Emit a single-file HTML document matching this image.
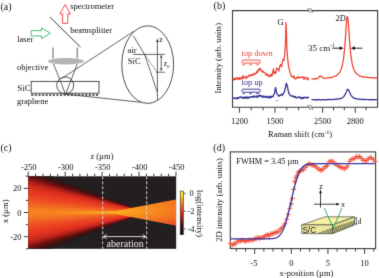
<!DOCTYPE html>
<html><head><meta charset="utf-8"><style>
html,body{margin:0;padding:0;background:#fff;}
svg{display:block;will-change:transform;}
text{font-family:'Liberation Serif',serif;}
</style></head><body>
<svg width="379" height="278" viewBox="0 0 379 278">
<defs><filter id="soft" x="0" y="0" width="379" height="278" filterUnits="userSpaceOnUse" color-interpolation-filters="sRGB"><feConvolveMatrix order="3" kernelMatrix="0.0183 0.1353 0.0183 0.1353 1 0.1353 0.0183 0.1353 0.0183" divisor="1.6146" edgeMode="duplicate"/></filter></defs>
<g filter="url(#soft)">
<rect width="379" height="278" fill="#fff"/>
<text x="0.5" y="10.2" font-size="10" fill="#111111" text-anchor="start" >(a)</text>
<path d="M65.2,4.5 L70.6,14 L67.8,14 L67.8,23.4 L62.6,23.4 L62.6,14 L59.8,14 Z" fill="none" stroke="#ee3a43" stroke-width="0.9"/>
<text x="70.2" y="9.2" font-size="8.5" fill="#111111" text-anchor="start" >spectrometer</text>
<line x1="49.9" y1="17.1" x2="80.5" y2="47.1" stroke="#3c3c3c" stroke-width="1"/>
<text x="70.2" y="33.2" font-size="8.5" fill="#111111" text-anchor="start" >beamsplitter</text>
<path d="M50.4,33.3 L41.5,27.9 L41.5,30.6 L31.2,30.6 L31.2,36 L41.5,36 L41.5,38.7 Z" fill="none" stroke="#2eb872" stroke-width="0.9"/>
<text x="17.2" y="42.2" font-size="8.5" fill="#111111" text-anchor="start" >laser</text>
<line x1="53" y1="47.6" x2="53" y2="58.5" stroke="#707070" stroke-width="1.1"/>
<line x1="77.2" y1="47.6" x2="77.2" y2="58.5" stroke="#707070" stroke-width="1.1"/>
<ellipse cx="66" cy="61.2" rx="18" ry="3.2" fill="#b4b4b6"/>
<text x="17.0" y="70.0" font-size="8.5" fill="#111111" text-anchor="start" >objective</text>
<line x1="53.5" y1="64" x2="65.6" y2="94.3" stroke="#3c3c3c" stroke-width="0.8"/>
<line x1="77.2" y1="64" x2="65.6" y2="94.3" stroke="#3c3c3c" stroke-width="0.8"/>
<rect x="31.2" y="81.4" width="67.8" height="11.8" fill="none" stroke="#3c3c3c" stroke-width="0.9"/>
<text x="17.3" y="90.6" font-size="8.8" fill="#111111" text-anchor="start" >SiC</text>
<line x1="31.2" y1="95" x2="99" y2="95" stroke="#2a2a2a" stroke-width="1.5" stroke-dasharray="2.1,1.5"/>
<text x="17.0" y="103.8" font-size="8.5" fill="#111111" text-anchor="start" >graphene</text>
<circle cx="65.2" cy="85.4" r="8.5" fill="none" stroke="#3c3c3c" stroke-width="0.9"/>
<line x1="61.6" y1="78.6" x2="133.6" y2="31.4" stroke="#3c3c3c" stroke-width="0.8"/>
<line x1="65.5" y1="94.2" x2="141.0" y2="102.3" stroke="#3c3c3c" stroke-width="0.8"/>
<ellipse cx="147.7" cy="64.6" rx="25.9" ry="38.8" fill="none" stroke="#3c3c3c" stroke-width="0.9"/>
<line x1="133.1" y1="54.4" x2="164.9" y2="54.4" stroke="#3c3c3c" stroke-width="0.8"/>
<text x="127.6" y="52.6" font-size="8.5" fill="#111111" text-anchor="start" >air</text>
<text x="127.8" y="63.6" font-size="8.5" fill="#111111" text-anchor="start" >SiC</text>
<line x1="157.4" y1="41" x2="157.4" y2="100" stroke="#3c3c3c" stroke-width="0.8"/>
<path d="M157.4,38.6 L156,42 L158.8,42 Z" fill="#3c3c3c"/>
<text x="159.3" y="41.6" font-size="8" fill="#111111" text-anchor="start" >z</text>
<line x1="133.4" y1="35.8" x2="144.6" y2="54.4" stroke="#3c3c3c" stroke-width="0.8"/>
<path d="M144.6,54.4 Q150,70 157.2,92" fill="none" stroke="#3c3c3c" stroke-width="0.8"/>
<line x1="144.6" y1="54.4" x2="157" y2="72" stroke="#3c3c3c" stroke-width="0.8" stroke-dasharray="1.6,1.2"/>
<line x1="156" y1="72.2" x2="164.9" y2="72.2" stroke="#3c3c3c" stroke-width="0.8"/>
<line x1="161.2" y1="56.5" x2="161.2" y2="69.6" stroke="#3c3c3c" stroke-width="0.8"/>
<path d="M161.2,54.8 L160,57.6 L162.4,57.6 Z M161.2,71.3 L160,68.5 L162.4,68.5 Z" fill="#3c3c3c"/>
<text x="163.8" y="66.0" font-size="7.5" fill="#111111" text-anchor="start" >z</text>
<text x="167.3" y="67.5" font-size="4.5" fill="#111111" text-anchor="start" >0</text>
<text x="213.6" y="9.2" font-size="10" fill="#111111" text-anchor="start" >(b)</text>
<path d="M308.8,10.6 L232.5,10.6 L232.5,107.3 L308.8,107.3 M311.8,107.3 L377.6,107.3 L377.6,10.6 L311.8,10.6" fill="none" stroke="#3c3c3c" stroke-width="1.1"/>
<path d="M307.8,8.1 L310.3,12.6 M310.3,8.1 L312.8,12.6" stroke="#3c3c3c" stroke-width="0.8"/>
<path d="M307.7,104.8 L310.4,109.8 M310.1,104.8 L312.8,109.8" stroke="#3c3c3c" stroke-width="0.8"/>
<line x1="239.40" y1="107.3" x2="239.40" y2="112.8" stroke="#3c3c3c" stroke-width="1"/>
<line x1="251.25" y1="107.3" x2="251.25" y2="110.3" stroke="#3c3c3c" stroke-width="1"/>
<line x1="263.10" y1="107.3" x2="263.10" y2="110.3" stroke="#3c3c3c" stroke-width="1"/>
<line x1="274.95" y1="107.3" x2="274.95" y2="112.8" stroke="#3c3c3c" stroke-width="1"/>
<line x1="286.80" y1="107.3" x2="286.80" y2="110.3" stroke="#3c3c3c" stroke-width="1"/>
<line x1="298.65" y1="107.3" x2="298.65" y2="110.3" stroke="#3c3c3c" stroke-width="1"/>
<line x1="322.60" y1="107.3" x2="322.60" y2="112.8" stroke="#3c3c3c" stroke-width="1"/>
<line x1="333.47" y1="107.3" x2="333.47" y2="110.3" stroke="#3c3c3c" stroke-width="1"/>
<line x1="344.34" y1="107.3" x2="344.34" y2="110.3" stroke="#3c3c3c" stroke-width="1"/>
<line x1="355.21" y1="107.3" x2="355.21" y2="112.8" stroke="#3c3c3c" stroke-width="1"/>
<line x1="366.08" y1="107.3" x2="366.08" y2="110.3" stroke="#3c3c3c" stroke-width="1"/>
<text x="239.40" y="123.7" font-size="8.5" fill="#111111" text-anchor="middle" >1200</text>
<text x="274.95" y="123.7" font-size="8.5" fill="#111111" text-anchor="middle" >1500</text>
<text x="322.60" y="123.7" font-size="8.5" fill="#111111" text-anchor="middle" >2500</text>
<text x="355.21" y="123.7" font-size="8.5" fill="#111111" text-anchor="middle" >2800</text>
<text x="268" y="136.8" font-size="8.5" fill="#111111">Raman shift (cm<tspan font-size="5.5" dy="-3.2">-1</tspan><tspan dy="3.2">)</tspan></text>
<text transform="translate(221.3,58.2) rotate(-90)" font-size="8.7" fill="#111111" text-anchor="middle">Intensity (arb. units)</text>
<text x="277.6" y="25.2" font-size="8.5" fill="#111111" text-anchor="start" >G</text>
<text x="335.5" y="20.9" font-size="8.5" fill="#111111" text-anchor="start" >2D</text>
<text x="307.9" y="50.7" font-size="9" fill="#111111">35 cm<tspan font-size="5.6" dy="-3.6">-1</tspan></text>
<line x1="332.3" y1="48.2" x2="341" y2="48.2" stroke="#111111" stroke-width="0.9"/>
<path d="M343.6,48.2 L339.6,46.3 L339.6,50.1 Z" fill="#111111"/>
<line x1="353.2" y1="48.2" x2="362.3" y2="48.2" stroke="#111111" stroke-width="0.9"/>
<path d="M350.8,48.2 L354.8,46.3 L354.8,50.1 Z" fill="#111111"/>
<polyline points="232.50,79.30 233.00,78.74 233.50,80.07 234.00,78.38 234.50,79.61 235.00,79.06 235.50,78.13 236.00,79.31 236.50,77.91 237.00,78.93 237.50,77.83 238.00,77.80 238.50,78.64 239.00,79.68 239.50,77.63 240.00,77.82 240.50,78.67 241.00,79.28 241.50,77.96 242.00,77.17 242.50,78.51 243.00,75.62 243.50,78.22 244.00,76.95 244.50,76.87 245.00,77.12 245.50,77.42 246.00,78.61 246.50,76.61 247.00,77.50 247.50,77.43 248.00,76.45 248.50,76.71 249.00,75.12 249.50,74.88 250.00,75.06 250.50,76.17 251.00,75.24 251.50,74.71 252.00,75.25 252.50,74.65 253.00,74.00 253.50,75.17 254.00,74.68 254.50,73.19 255.00,73.89 255.50,73.27 256.00,73.77 256.50,72.87 257.00,71.15 257.50,72.61 258.00,69.71 258.50,70.02 259.00,70.43 259.50,68.21 260.00,69.47 260.50,68.53 261.00,70.61 261.50,71.20 262.00,70.98 262.50,72.14 263.00,70.88 263.50,72.27 264.00,72.30 264.50,72.57 265.00,72.54 265.50,74.19 266.00,75.06 266.50,74.31 267.00,75.42 267.50,73.82 268.00,75.71 268.50,75.66 269.00,76.72 269.50,76.34 270.00,74.93 270.50,75.36 271.00,76.30 271.50,73.78 272.00,75.94 272.50,72.85 273.00,70.88 273.50,68.88 274.00,73.46 274.50,71.84 275.00,73.71 275.50,72.46 276.00,72.76 276.50,68.19 277.00,68.94 277.50,68.46 278.00,69.05 278.50,69.72 279.00,70.89 279.50,66.83 280.00,66.09 280.50,64.45 281.00,65.48 281.50,66.84 282.00,64.10 282.50,61.69 283.00,59.34 283.50,59.52 284.00,60.45 284.50,56.47 285.00,50.70 285.50,41.77 286.00,22.72 286.50,34.96 287.00,50.41 287.50,56.59 288.00,61.64 288.50,65.93 289.00,68.62 289.50,69.81 290.00,72.75 290.50,73.44 291.00,74.77 291.50,76.59 292.00,76.56 292.50,76.39 293.00,76.98 293.50,77.44 294.00,75.98 294.50,78.63 295.00,78.57 295.50,78.89 296.00,78.72 296.50,77.63 297.00,77.69 297.50,76.91 298.00,78.44 298.50,76.87 299.00,76.93 299.50,77.36 300.00,77.27 300.50,77.79 301.00,77.00 301.50,76.88 302.00,77.32 302.50,77.20 303.00,77.95 303.50,77.03 304.00,79.42 304.50,78.71 305.00,77.43 305.50,77.74 306.00,78.02 306.50,78.09 307.00,77.43 307.50,79.48 308.00,79.90 308.50,78.44 309.00,78.51" fill="none" stroke="#ef4130" stroke-width="1.25" stroke-linejoin="round"/>
<polyline points="311.50,78.84 312.00,78.83 312.50,78.93 313.00,78.87 313.50,79.14 314.00,78.78 314.50,78.69 315.00,79.13 315.50,78.89 316.00,78.65 316.50,78.76 317.00,78.35 317.50,78.36 318.00,78.23 318.50,77.71 319.00,77.10 319.50,76.40 320.00,76.11 320.50,75.90 321.00,76.35 321.50,76.59 322.00,77.16 322.50,77.39 323.00,77.69 323.50,78.23 324.00,78.45 324.50,78.44 325.00,78.42 325.50,78.40 326.00,78.31 326.50,78.01 327.00,78.09 327.50,77.95 328.00,77.72 328.50,77.65 329.00,77.70 329.50,77.61 330.00,77.74 330.50,77.78 331.00,77.42 331.50,77.56 332.00,77.46 332.50,77.32 333.00,76.88 333.50,76.65 334.00,76.48 334.50,76.27 335.00,76.06 335.50,76.03 336.00,75.90 336.50,75.57 337.00,75.05 337.50,74.75 338.00,74.37 338.50,73.50 339.00,73.20 339.50,72.63 340.00,71.75 340.50,70.77 341.00,69.48 341.50,67.94 342.00,66.56 342.50,64.26 343.00,61.95 343.50,58.87 344.00,54.65 344.50,49.79 345.00,44.15 345.50,37.14 346.00,29.40 346.50,22.37 347.00,17.47 347.50,16.59 348.00,19.40 348.50,25.03 349.00,32.72 349.50,40.11 350.00,46.46 350.50,51.77 351.00,56.33 351.50,59.71 352.00,62.54 352.50,65.34 353.00,67.07 353.50,68.55 354.00,70.02 354.50,70.83 355.00,71.94 355.50,72.66 356.00,72.99 356.50,73.55 357.00,74.04 357.50,74.42 358.00,74.94 358.50,75.09 359.00,75.44 359.50,75.54 360.00,76.14 360.50,76.05 361.00,76.27 361.50,76.49 362.00,76.78 362.50,76.66 363.00,77.02 363.50,76.92 364.00,77.02 364.50,77.10 365.00,76.92 365.50,77.20 366.00,77.14 366.50,77.11 367.00,77.56 367.50,77.29 368.00,77.49 368.50,77.65 369.00,77.61 369.50,77.53 370.00,77.66 370.50,77.70 371.00,77.85 371.50,77.53 372.00,77.78 372.50,77.65 373.00,77.68 373.50,77.95 374.00,77.83 374.50,77.87 375.00,77.99 375.50,78.08 376.00,77.86 376.50,77.95 377.00,77.91" fill="none" stroke="#ef4130" stroke-width="1.25" stroke-linejoin="round"/>
<polyline points="232.50,98.01 233.00,98.31 233.50,97.87 234.00,97.99 234.50,97.88 235.00,98.70 235.50,98.24 236.00,98.55 236.50,98.65 237.00,97.40 237.50,97.93 238.00,98.60 238.50,98.40 239.00,97.12 239.50,97.07 240.00,97.63 240.50,96.95 241.00,97.24 241.50,96.92 242.00,97.98 242.50,98.17 243.00,98.35 243.50,97.00 244.00,97.99 244.50,97.88 245.00,96.93 245.50,98.23 246.00,98.34 246.50,96.96 247.00,98.24 247.50,97.21 248.00,97.33 248.50,98.20 249.00,97.88 249.50,96.64 250.00,97.09 250.50,97.21 251.00,96.85 251.50,96.56 252.00,96.74 252.50,97.43 253.00,96.13 253.50,97.06 254.00,96.82 254.50,96.02 255.00,96.55 255.50,96.98 256.00,96.69 256.50,95.79 257.00,97.35 257.50,96.91 258.00,97.15 258.50,95.49 259.00,95.69 259.50,95.19 260.00,96.43 260.50,95.61 261.00,95.45 261.50,96.07 262.00,97.05 262.50,96.98 263.00,96.06 263.50,95.96 264.00,97.44 264.50,96.91 265.00,97.23 265.50,96.18 266.00,96.16 266.50,97.33 267.00,96.90 267.50,96.30 268.00,97.89 268.50,97.38 269.00,97.71 269.50,96.44 270.00,97.85 270.50,96.29 271.00,97.57 271.50,96.67 272.00,96.27 272.50,96.42 273.00,96.79 273.50,95.18 274.00,94.21 274.50,93.53 275.00,90.25 275.50,87.44 276.00,89.87 276.50,92.21 277.00,93.63 277.50,94.60 278.00,95.06 278.50,96.20 279.00,95.60 279.50,95.91 280.00,95.22 280.50,95.37 281.00,94.58 281.50,94.83 282.00,94.17 282.50,95.13 283.00,94.32 283.50,93.00 284.00,92.55 284.50,91.99 285.00,88.57 285.50,87.40 286.00,84.30 286.50,83.35 287.00,85.10 287.50,86.80 288.00,89.53 288.50,91.87 289.00,93.86 289.50,93.76 290.00,95.40 290.50,95.73 291.00,96.03 291.50,95.94 292.00,96.11 292.50,95.77 293.00,96.07 293.50,96.10 294.00,97.42 294.50,96.64 295.00,96.55 295.50,96.49 296.00,97.91 296.50,98.02 297.00,97.72 297.50,97.07 298.00,97.04 298.50,97.17 299.00,97.51 299.50,97.00 300.00,97.56 300.50,97.26 301.00,98.55 301.50,98.60 302.00,97.86 302.50,97.34 303.00,98.67 303.50,97.51 304.00,97.62 304.50,97.01 305.00,97.71 305.50,97.91 306.00,97.98 306.50,97.46 307.00,98.03 307.50,97.15 308.00,97.64 308.50,97.34 309.00,97.92" fill="none" stroke="#2c2b90" stroke-width="1.25" stroke-linejoin="round"/>
<polyline points="311.50,99.56 312.00,99.55 312.50,99.66 313.00,99.63 313.50,99.77 314.00,99.74 314.50,99.83 315.00,99.79 315.50,99.81 316.00,99.87 316.50,99.67 317.00,99.65 317.50,99.91 318.00,99.57 318.50,99.80 319.00,99.76 319.50,99.52 320.00,99.83 320.50,99.85 321.00,99.74 321.50,99.78 322.00,99.80 322.50,99.53 323.00,99.68 323.50,99.67 324.00,99.79 324.50,99.78 325.00,99.78 325.50,99.67 326.00,99.79 326.50,99.70 327.00,99.69 327.50,99.50 328.00,99.41 328.50,99.44 329.00,99.52 329.50,99.41 330.00,99.69 330.50,99.56 331.00,99.57 331.50,99.56 332.00,99.56 332.50,99.46 333.00,99.25 333.50,99.54 334.00,99.49 334.50,99.37 335.00,99.35 335.50,99.36 336.00,99.08 336.50,99.30 337.00,99.06 337.50,98.93 338.00,98.94 338.50,99.04 339.00,98.75 339.50,98.86 340.00,98.83 340.50,98.50 341.00,98.28 341.50,98.12 342.00,97.96 342.50,97.70 343.00,97.29 343.50,96.86 344.00,96.09 344.50,95.46 345.00,94.68 345.50,93.90 346.00,92.60 346.50,91.51 347.00,90.18 347.50,89.43 348.00,89.32 348.50,89.93 349.00,90.87 349.50,92.03 350.00,93.06 350.50,94.22 351.00,95.11 351.50,95.87 352.00,96.34 352.50,97.15 353.00,97.27 353.50,97.91 354.00,98.16 354.50,98.02 355.00,98.38 355.50,98.69 356.00,98.88 356.50,98.78 357.00,98.81 357.50,98.87 358.00,99.24 358.50,99.01 359.00,99.21 359.50,99.08 360.00,99.28 360.50,99.49 361.00,99.20 361.50,99.51 362.00,99.41 362.50,99.59 363.00,99.54 363.50,99.37 364.00,99.65 364.50,99.51 365.00,99.34 365.50,99.34 366.00,99.55 366.50,99.55 367.00,99.50 367.50,99.45 368.00,99.54 368.50,99.54 369.00,99.76 369.50,99.43 370.00,99.74 370.50,99.78 371.00,99.50 371.50,99.83 372.00,99.75 372.50,99.83 373.00,99.59 373.50,99.63 374.00,99.64 374.50,99.89 375.00,99.73 375.50,99.64 376.00,99.67 376.50,99.61 377.00,99.52" fill="none" stroke="#2c2b90" stroke-width="1.25" stroke-linejoin="round"/>
<circle cx="277" cy="100.6" r="0.6" fill="#2c2b90"/>
<text x="241.6" y="56.4" font-size="8.3" fill="#ef4130" text-anchor="start" >top down</text>
<rect x="241.9" y="60.1" width="18.4" height="3" rx="1.3" fill="none" stroke="#ef4130" stroke-width="0.9"/>
<path d="M242.2,64.7 h2.8 M249.2,64.7 h2.8 M256.1,64.7 h2.8" stroke="#ef4130" stroke-width="0.8"/>
<text x="241.6" y="85.4" font-size="8.3" fill="#2c2b90" text-anchor="start" >top up</text>
<rect x="241.9" y="89.2" width="18.4" height="3" rx="1.3" fill="none" stroke="#2c2b90" stroke-width="0.9"/>
<path d="M242.2,93.6 h2.8 M249.2,93.6 h2.8 M256.1,93.6 h2.8" stroke="#2c2b90" stroke-width="0.8"/>
<text x="0.5" y="151.4" font-size="10" fill="#111111" text-anchor="start" >(c)</text>
<rect x="28.2" y="176.3" width="147.8" height="72.5" fill="#231f20"/>
<defs>
<linearGradient id="streakv" x1="0" y1="0" x2="0" y2="1"><stop offset="0" stop-color="#f9b41c" stop-opacity="0"/><stop offset="0.5" stop-color="#f9b41c" stop-opacity="1"/><stop offset="1" stop-color="#f9b41c" stop-opacity="0"/></linearGradient>
<linearGradient id="streakh" x1="0" y1="0" x2="1" y2="0"><stop offset="0" stop-color="#fff" stop-opacity="0"/><stop offset="0.5" stop-color="#fff" stop-opacity="0.8"/><stop offset="1" stop-color="#fff" stop-opacity="1"/></linearGradient>
<mask id="smask"><rect x="40" y="205" width="80" height="15" fill="url(#streakh)"/></mask>
<linearGradient id="rch" x1="0" y1="0" x2="1" y2="0"><stop offset="0" stop-color="#fbb61a"/><stop offset="0.3" stop-color="#f9a11c"/><stop offset="0.7" stop-color="#f6891f"/><stop offset="1" stop-color="#f47621"/></linearGradient>
<linearGradient id="rcv" x1="0" y1="0" x2="0" y2="1"><stop offset="0" stop-color="#f26522" stop-opacity="0.25"/><stop offset="0.45" stop-color="#f26522" stop-opacity="0"/><stop offset="0.7" stop-color="#ee4a23" stop-opacity="0.25"/><stop offset="1" stop-color="#ec3f23" stop-opacity="0.8"/></linearGradient>
<linearGradient id="rcedge" x1="0" y1="0" x2="1" y2="0"><stop offset="0" stop-color="#fff" stop-opacity="0"/><stop offset="0.3" stop-color="#fff" stop-opacity="1"/></linearGradient>
<clipPath id="cimg"><rect x="28.2" y="176.3" width="147.8" height="72.5"/></clipPath></defs>
<g clip-path="url(#cimg)">
<linearGradient id="lb" x1="0" y1="0" x2="0" y2="1"><stop offset="0.000" stop-color="#231f20"/><stop offset="0.035" stop-color="#2c1616"/><stop offset="0.075" stop-color="#471010"/><stop offset="0.115" stop-color="#701111"/><stop offset="0.155" stop-color="#a81d17"/><stop offset="0.200" stop-color="#cf2a1d"/><stop offset="0.260" stop-color="#e5361f"/><stop offset="0.330" stop-color="#eb4523"/><stop offset="0.390" stop-color="#f05c24"/><stop offset="0.450" stop-color="#f47821"/><stop offset="0.500" stop-color="#f5841f"/><stop offset="0.550" stop-color="#f47821"/><stop offset="0.610" stop-color="#f05c24"/><stop offset="0.670" stop-color="#eb4523"/><stop offset="0.740" stop-color="#e5361f"/><stop offset="0.800" stop-color="#cf2a1d"/><stop offset="0.845" stop-color="#a81d17"/><stop offset="0.885" stop-color="#701111"/><stop offset="0.925" stop-color="#471010"/><stop offset="0.965" stop-color="#2c1616"/><stop offset="1.000" stop-color="#231f20"/></linearGradient>
<g fill="url(#lb)"><rect x="28" y="167.11" width="1" height="90.77"/><rect x="29" y="167.49" width="1" height="90.01"/><rect x="30" y="167.87" width="1" height="89.25"/><rect x="31" y="168.25" width="1" height="88.49"/><rect x="32" y="168.63" width="1" height="87.73"/><rect x="33" y="169.01" width="1" height="86.97"/><rect x="34" y="169.39" width="1" height="86.21"/><rect x="35" y="169.77" width="1" height="85.45"/><rect x="36" y="170.15" width="1" height="84.69"/><rect x="37" y="170.53" width="1" height="83.93"/><rect x="38" y="170.91" width="1" height="83.17"/><rect x="39" y="171.29" width="1" height="82.41"/><rect x="40" y="171.67" width="1" height="81.65"/><rect x="41" y="172.05" width="1" height="80.89"/><rect x="42" y="172.43" width="1" height="80.13"/><rect x="43" y="172.81" width="1" height="79.37"/><rect x="44" y="173.19" width="1" height="78.61"/><rect x="45" y="173.57" width="1" height="77.85"/><rect x="46" y="173.95" width="1" height="77.09"/><rect x="47" y="174.33" width="1" height="76.33"/><rect x="48" y="174.71" width="1" height="75.57"/><rect x="49" y="175.09" width="1" height="74.81"/><rect x="50" y="175.47" width="1" height="74.05"/><rect x="51" y="175.85" width="1" height="73.29"/><rect x="52" y="176.23" width="1" height="72.53"/><rect x="53" y="176.61" width="1" height="71.77"/><rect x="54" y="176.99" width="1" height="71.01"/><rect x="55" y="177.37" width="1" height="70.25"/><rect x="56" y="177.75" width="1" height="69.49"/><rect x="57" y="178.13" width="1" height="68.73"/><rect x="58" y="178.51" width="1" height="67.97"/><rect x="59" y="178.89" width="1" height="67.21"/><rect x="60" y="179.27" width="1" height="66.45"/><rect x="61" y="179.65" width="1" height="65.69"/><rect x="62" y="180.03" width="1" height="64.93"/><rect x="63" y="180.41" width="1" height="64.17"/><rect x="64" y="180.79" width="1" height="63.41"/><rect x="65" y="181.17" width="1" height="62.65"/><rect x="66" y="181.55" width="1" height="61.89"/><rect x="67" y="181.93" width="1" height="61.13"/><rect x="68" y="182.31" width="1" height="60.37"/><rect x="69" y="182.69" width="1" height="59.61"/><rect x="70" y="183.07" width="1" height="58.85"/><rect x="71" y="183.45" width="1" height="58.09"/><rect x="72" y="183.83" width="1" height="57.33"/><rect x="73" y="184.21" width="1" height="56.57"/><rect x="74" y="184.59" width="1" height="55.81"/><rect x="75" y="184.97" width="1" height="55.05"/><rect x="76" y="185.35" width="1" height="54.29"/><rect x="77" y="185.73" width="1" height="53.53"/><rect x="78" y="186.11" width="1" height="52.77"/><rect x="79" y="186.49" width="1" height="52.01"/><rect x="80" y="186.87" width="1" height="51.25"/><rect x="81" y="187.25" width="1" height="50.49"/><rect x="82" y="187.63" width="1" height="49.73"/><rect x="83" y="188.01" width="1" height="48.97"/><rect x="84" y="188.39" width="1" height="48.21"/><rect x="85" y="188.77" width="1" height="47.45"/><rect x="86" y="189.15" width="1" height="46.69"/><rect x="87" y="189.53" width="1" height="45.93"/><rect x="88" y="189.91" width="1" height="45.17"/><rect x="89" y="190.29" width="1" height="44.41"/><rect x="90" y="190.67" width="1" height="43.65"/><rect x="91" y="191.05" width="1" height="42.89"/><rect x="92" y="191.43" width="1" height="42.13"/><rect x="93" y="191.81" width="1" height="41.37"/><rect x="94" y="192.19" width="1" height="40.61"/><rect x="95" y="192.57" width="1" height="39.85"/><rect x="96" y="192.95" width="1" height="39.09"/><rect x="97" y="193.33" width="1" height="38.33"/><rect x="98" y="193.71" width="1" height="37.57"/><rect x="99" y="194.09" width="1" height="36.81"/><rect x="100" y="194.47" width="1" height="36.05"/><rect x="101" y="194.85" width="1" height="35.29"/><rect x="102" y="195.23" width="1" height="34.53"/><rect x="103" y="195.61" width="1" height="33.77"/><rect x="104" y="195.99" width="1" height="33.01"/><rect x="105" y="196.37" width="1" height="32.25"/><rect x="106" y="196.75" width="1" height="31.49"/><rect x="107" y="197.13" width="1" height="30.73"/><rect x="108" y="197.51" width="1" height="29.97"/><rect x="109" y="197.89" width="1" height="29.21"/><rect x="110" y="198.27" width="1" height="28.45"/><rect x="111" y="198.65" width="1" height="27.69"/><rect x="112" y="199.03" width="1" height="26.93"/><rect x="113" y="199.41" width="1" height="26.17"/><rect x="114" y="199.79" width="1" height="25.41"/><rect x="115" y="200.17" width="1" height="24.65"/><rect x="116" y="200.55" width="1" height="23.89"/><rect x="117" y="200.93" width="1" height="23.13"/><rect x="118" y="201.31" width="1" height="22.37"/><rect x="119" y="201.69" width="1" height="21.61"/><rect x="120" y="202.07" width="1" height="20.85"/><rect x="121" y="202.45" width="1" height="20.09"/><rect x="122" y="202.83" width="1" height="19.33"/><rect x="123" y="203.21" width="1" height="18.57"/><rect x="124" y="203.59" width="1" height="17.81"/><rect x="125" y="203.97" width="1" height="17.05"/><rect x="126" y="204.35" width="1" height="16.29"/><rect x="127" y="204.73" width="1" height="15.53"/><rect x="128" y="205.11" width="1" height="14.77"/><rect x="129" y="205.49" width="1" height="14.01"/><rect x="130" y="205.87" width="1" height="13.25"/><rect x="131" y="206.25" width="1" height="12.49"/><rect x="132" y="206.63" width="1" height="11.73"/><rect x="133" y="207.01" width="1" height="10.97"/><rect x="134" y="207.39" width="1" height="10.21"/><rect x="135" y="207.77" width="1" height="9.45"/><rect x="136" y="208.15" width="1" height="8.69"/><rect x="137" y="208.53" width="1" height="7.93"/><rect x="138" y="208.91" width="1" height="7.17"/><rect x="139" y="209.29" width="1" height="6.41"/><rect x="140" y="209.67" width="1" height="5.65"/><rect x="141" y="210.05" width="1" height="4.89"/></g>
<path d="M45,212.5 L113,210.9 L113,214.1 Z" fill="#f9b41c" opacity="0.85" mask="url(#smask)"/>
<path d="M107.5,212.5 L177,199.3 L177,225.7 Z" fill="url(#rch)"/>
<path d="M107.5,212.5 L177,199.3 L177,225.7 Z" fill="url(#rcv)"/>
</g>
<line x1="102.7" y1="176.3" x2="102.7" y2="248.8" stroke="#d4d4d4" stroke-width="1" stroke-dasharray="3,2"/>
<line x1="146.7" y1="176.3" x2="146.7" y2="248.8" stroke="#d4d4d4" stroke-width="1" stroke-dasharray="3,2"/>
<line x1="104" y1="236.6" x2="145.4" y2="236.6" stroke="#ececec" stroke-width="0.9"/>
<path d="M103.2,236.6 L106.6,234.6 M103.2,236.6 L106.6,238.6 M146.1,236.6 L142.7,234.6 M146.1,236.6 L142.7,238.6" stroke="#ececec" stroke-width="0.9" fill="none"/>
<text x="106.6" y="246.6" font-size="10" fill="#ececec" text-anchor="start" >aberation</text>
<line x1="28.20" y1="176.3" x2="28.20" y2="171.70000000000002" stroke="#3c3c3c" stroke-width="1"/>
<line x1="35.59" y1="176.3" x2="35.59" y2="173.70000000000002" stroke="#3c3c3c" stroke-width="1"/>
<line x1="42.98" y1="176.3" x2="42.98" y2="173.70000000000002" stroke="#3c3c3c" stroke-width="1"/>
<line x1="50.37" y1="176.3" x2="50.37" y2="173.70000000000002" stroke="#3c3c3c" stroke-width="1"/>
<line x1="57.76" y1="176.3" x2="57.76" y2="173.70000000000002" stroke="#3c3c3c" stroke-width="1"/>
<line x1="65.15" y1="176.3" x2="65.15" y2="171.70000000000002" stroke="#3c3c3c" stroke-width="1"/>
<line x1="72.54" y1="176.3" x2="72.54" y2="173.70000000000002" stroke="#3c3c3c" stroke-width="1"/>
<line x1="79.93" y1="176.3" x2="79.93" y2="173.70000000000002" stroke="#3c3c3c" stroke-width="1"/>
<line x1="87.32" y1="176.3" x2="87.32" y2="173.70000000000002" stroke="#3c3c3c" stroke-width="1"/>
<line x1="94.71" y1="176.3" x2="94.71" y2="173.70000000000002" stroke="#3c3c3c" stroke-width="1"/>
<line x1="102.10" y1="176.3" x2="102.10" y2="171.70000000000002" stroke="#3c3c3c" stroke-width="1"/>
<line x1="109.49" y1="176.3" x2="109.49" y2="173.70000000000002" stroke="#3c3c3c" stroke-width="1"/>
<line x1="116.88" y1="176.3" x2="116.88" y2="173.70000000000002" stroke="#3c3c3c" stroke-width="1"/>
<line x1="124.27" y1="176.3" x2="124.27" y2="173.70000000000002" stroke="#3c3c3c" stroke-width="1"/>
<line x1="131.66" y1="176.3" x2="131.66" y2="173.70000000000002" stroke="#3c3c3c" stroke-width="1"/>
<line x1="139.05" y1="176.3" x2="139.05" y2="171.70000000000002" stroke="#3c3c3c" stroke-width="1"/>
<line x1="146.44" y1="176.3" x2="146.44" y2="173.70000000000002" stroke="#3c3c3c" stroke-width="1"/>
<line x1="153.83" y1="176.3" x2="153.83" y2="173.70000000000002" stroke="#3c3c3c" stroke-width="1"/>
<line x1="161.22" y1="176.3" x2="161.22" y2="173.70000000000002" stroke="#3c3c3c" stroke-width="1"/>
<line x1="168.61" y1="176.3" x2="168.61" y2="173.70000000000002" stroke="#3c3c3c" stroke-width="1"/>
<line x1="176.00" y1="176.3" x2="176.00" y2="171.70000000000002" stroke="#3c3c3c" stroke-width="1"/>
<text x="28.80" y="169.8" font-size="8.5" fill="#111111" text-anchor="middle" >-250</text>
<text x="65.75" y="169.8" font-size="8.5" fill="#111111" text-anchor="middle" >-300</text>
<text x="102.70" y="169.8" font-size="8.5" fill="#111111" text-anchor="middle" >-350</text>
<text x="139.65" y="169.8" font-size="8.5" fill="#111111" text-anchor="middle" >-400</text>
<text x="176.60" y="169.8" font-size="8.5" fill="#111111" text-anchor="middle" >-450</text>
<text x="90.4" y="158.6" font-size="8.5" fill="#111111" text-anchor="start" >z (µm)</text>
<line x1="28.2" y1="248.80" x2="25.8" y2="248.80" stroke="#3c3c3c" stroke-width="1"/>
<line x1="28.2" y1="236.70" x2="23.799999999999997" y2="236.70" stroke="#3c3c3c" stroke-width="1"/>
<line x1="28.2" y1="224.60" x2="25.8" y2="224.60" stroke="#3c3c3c" stroke-width="1"/>
<line x1="28.2" y1="212.50" x2="23.799999999999997" y2="212.50" stroke="#3c3c3c" stroke-width="1"/>
<line x1="28.2" y1="200.40" x2="25.8" y2="200.40" stroke="#3c3c3c" stroke-width="1"/>
<line x1="28.2" y1="188.30" x2="23.799999999999997" y2="188.30" stroke="#3c3c3c" stroke-width="1"/>
<line x1="28.2" y1="176.20" x2="25.8" y2="176.20" stroke="#3c3c3c" stroke-width="1"/>
<text x="21.5" y="191.30" font-size="8.5" fill="#111111" text-anchor="end" >20</text>
<text x="21.5" y="215.50" font-size="8.5" fill="#111111" text-anchor="end" >0</text>
<text x="21.5" y="239.70" font-size="8.5" fill="#111111" text-anchor="end" >-20</text>
<text transform="translate(7.7,211.3) rotate(-90)" font-size="8.6" fill="#111111" text-anchor="middle">x (µm)</text>
<linearGradient id="cb" x1="0" y1="0" x2="0" y2="1"><stop offset="0" stop-color="#fff32a"/><stop offset="0.07" stop-color="#fde725"/><stop offset="0.16" stop-color="#fbb81c"/><stop offset="0.27" stop-color="#f5861f"/><stop offset="0.38" stop-color="#ee5223"/><stop offset="0.48" stop-color="#e0301f"/><stop offset="0.6" stop-color="#b01d18"/><stop offset="0.7" stop-color="#701010"/><stop offset="0.8" stop-color="#3a0c0c"/><stop offset="0.9" stop-color="#180c0c"/><stop offset="1" stop-color="#100a0a"/></linearGradient>
<rect x="180.2" y="191.1" width="3.1" height="43.6" fill="url(#cb)" stroke="#2a2a2a" stroke-width="0.6"/>
<line x1="183.5" y1="193.4" x2="185.6" y2="193.4" stroke="#3c3c3c" stroke-width="0.9"/>
<line x1="183.5" y1="211.2" x2="185.6" y2="211.2" stroke="#3c3c3c" stroke-width="0.9"/>
<line x1="183.5" y1="229.0" x2="185.6" y2="229.0" stroke="#3c3c3c" stroke-width="0.9"/>
<text x="189.6" y="196.4" font-size="8.3" fill="#111111" text-anchor="start" >0</text>
<text x="187.4" y="214.3" font-size="8.3" fill="#111111" text-anchor="start" >-2</text>
<text x="187.4" y="232.1" font-size="8.3" fill="#111111" text-anchor="start" >-4</text>
<line x1="176.7" y1="176.3" x2="176.7" y2="248.8" stroke="#d4d4d4" stroke-width="0.9"/>
<text transform="translate(197.2,213.6) rotate(90)" font-size="8.75" fill="#111111" text-anchor="middle">log(intensity)</text>
<text x="213.3" y="151.2" font-size="10" fill="#111111" text-anchor="start" >(d)</text>
<rect x="230.3" y="151.9" width="145.3" height="96.69999999999999" fill="none" stroke="#3c3c3c" stroke-width="1.1"/>
<line x1="236.33" y1="248.6" x2="236.33" y2="251.6" stroke="#3c3c3c" stroke-width="1"/>
<line x1="245.49" y1="248.6" x2="245.49" y2="251.6" stroke="#3c3c3c" stroke-width="1"/>
<line x1="254.65" y1="248.6" x2="254.65" y2="253.9" stroke="#3c3c3c" stroke-width="1"/>
<line x1="263.81" y1="248.6" x2="263.81" y2="251.6" stroke="#3c3c3c" stroke-width="1"/>
<line x1="272.98" y1="248.6" x2="272.98" y2="251.6" stroke="#3c3c3c" stroke-width="1"/>
<line x1="282.14" y1="248.6" x2="282.14" y2="251.6" stroke="#3c3c3c" stroke-width="1"/>
<line x1="291.30" y1="248.6" x2="291.30" y2="253.9" stroke="#3c3c3c" stroke-width="1"/>
<line x1="300.46" y1="248.6" x2="300.46" y2="251.6" stroke="#3c3c3c" stroke-width="1"/>
<line x1="309.62" y1="248.6" x2="309.62" y2="251.6" stroke="#3c3c3c" stroke-width="1"/>
<line x1="318.79" y1="248.6" x2="318.79" y2="251.6" stroke="#3c3c3c" stroke-width="1"/>
<line x1="327.95" y1="248.6" x2="327.95" y2="253.9" stroke="#3c3c3c" stroke-width="1"/>
<line x1="337.11" y1="248.6" x2="337.11" y2="251.6" stroke="#3c3c3c" stroke-width="1"/>
<line x1="346.28" y1="248.6" x2="346.28" y2="251.6" stroke="#3c3c3c" stroke-width="1"/>
<line x1="355.44" y1="248.6" x2="355.44" y2="251.6" stroke="#3c3c3c" stroke-width="1"/>
<line x1="364.60" y1="248.6" x2="364.60" y2="253.9" stroke="#3c3c3c" stroke-width="1"/>
<line x1="373.76" y1="248.6" x2="373.76" y2="251.6" stroke="#3c3c3c" stroke-width="1"/>
<text x="253.85" y="265.8" font-size="8.5" fill="#111111" text-anchor="middle" >-5</text>
<text x="291.30" y="265.8" font-size="8.5" fill="#111111" text-anchor="middle" >0</text>
<text x="327.95" y="265.8" font-size="8.5" fill="#111111" text-anchor="middle" >5</text>
<text x="364.60" y="265.8" font-size="8.5" fill="#111111" text-anchor="middle" >10</text>
<text x="279.6" y="275.6" font-size="8.5" fill="#111111" text-anchor="start" >x-position (µm)</text>
<text transform="translate(221.6,200.0) rotate(-90)" font-size="8.75" fill="#111111" text-anchor="middle">2D intensity (arb. units)</text>
<text x="236.3" y="164.4" font-size="8.3" fill="#111111" text-anchor="start" >FWHM = 3.45 µm</text>
<path d="M228.10,243.42h5M230.60,240.92v5M229.70,245.10h5M232.20,242.60v5M231.30,243.87h5M233.80,241.37v5M232.90,243.97h5M235.40,241.47v5M234.50,241.59h5M237.00,239.09v5M236.10,241.17h5M238.60,238.67v5M237.70,241.22h5M240.20,238.72v5M239.30,240.22h5M241.80,237.72v5M240.90,240.29h5M243.40,237.79v5M242.50,241.17h5M245.00,238.67v5M244.10,240.82h5M246.60,238.32v5M245.70,240.49h5M248.20,237.99v5M247.30,239.92h5M249.80,237.42v5M248.90,240.19h5M251.40,237.69v5M250.50,239.95h5M253.00,237.45v5M252.10,238.88h5M254.60,236.38v5M253.70,238.96h5M256.20,236.46v5M255.30,237.36h5M257.80,234.86v5M256.90,238.36h5M259.40,235.86v5M258.50,237.39h5M261.00,234.89v5M260.10,237.57h5M262.60,235.07v5M261.70,236.84h5M264.20,234.34v5M263.30,235.60h5M265.80,233.10v5M264.90,234.62h5M267.40,232.12v5M266.50,235.89h5M269.00,233.39v5M268.10,233.81h5M270.60,231.31v5M269.70,233.98h5M272.20,231.48v5M271.30,233.19h5M273.80,230.69v5M272.90,232.30h5M275.40,229.80v5M274.50,232.23h5M277.00,229.73v5M276.10,231.63h5M278.60,229.13v5M277.70,229.05h5M280.20,226.55v5M279.30,228.44h5M281.80,225.94v5M280.90,226.18h5M283.40,223.68v5M282.50,223.74h5M285.00,221.24v5M284.10,219.26h5M286.60,216.76v5M285.70,214.15h5M288.20,211.65v5M287.30,208.30h5M289.80,205.80v5M288.90,203.77h5M291.40,201.27v5M290.00,198.32h5M292.50,195.82v5M291.10,189.29h5M293.60,186.79v5M292.20,181.58h5M294.70,179.08v5M293.30,177.74h5M295.80,175.24v5M294.40,175.88h5M296.90,173.38v5M295.50,173.06h5M298.00,170.56v5M296.60,171.58h5M299.10,169.08v5M297.70,170.82h5M300.20,168.32v5M299.40,170.06h5M301.90,167.56v5M301.10,169.81h5M303.60,167.31v5M302.80,167.64h5M305.30,165.14v5M304.50,165.52h5M307.00,163.02v5M306.20,163.69h5M308.70,161.19v5M307.90,164.21h5M310.40,161.71v5M309.60,165.05h5M312.10,162.55v5M311.30,165.54h5M313.80,163.04v5M313.00,166.15h5M315.50,163.65v5M314.70,167.91h5M317.20,165.41v5M316.40,169.42h5M318.90,166.92v5M318.10,170.22h5M320.60,167.72v5M319.80,169.99h5M322.30,167.49v5M321.50,168.05h5M324.00,165.55v5M323.20,166.52h5M325.70,164.02v5M324.90,165.72h5M327.40,163.22v5M326.60,161.78h5M329.10,159.28v5M328.30,161.06h5M330.80,158.56v5M330.00,161.30h5M332.50,158.80v5M331.70,163.34h5M334.20,160.84v5M333.40,163.88h5M335.90,161.38v5M335.10,165.79h5M337.60,163.29v5M336.80,166.51h5M339.30,164.01v5M338.50,167.47h5M341.00,164.97v5M340.20,167.89h5M342.70,165.39v5M341.90,168.80h5M344.40,166.30v5M343.60,167.71h5M346.10,165.21v5M345.30,165.87h5M347.80,163.37v5M347.00,161.37h5M349.50,158.87v5M348.70,159.36h5M351.20,156.86v5M350.40,159.02h5M352.90,156.52v5M352.10,158.37h5M354.60,155.87v5M353.80,156.65h5M356.30,154.15v5M355.50,157.20h5M358.00,154.70v5M357.20,156.48h5M359.70,153.98v5M358.90,158.31h5M361.40,155.81v5M360.60,160.21h5M363.10,157.71v5M362.30,160.46h5M364.80,157.96v5M364.00,160.69h5M366.50,158.19v5M365.70,159.02h5M368.20,156.52v5M367.40,157.39h5M369.90,154.89v5M369.10,157.88h5M371.60,155.38v5M370.80,159.33h5M373.30,156.83v5M372.50,161.54h5M375.00,159.04v5" stroke="#f04b35" stroke-width="0.95" fill="none"/>
<polyline points="230.80,238.80 231.30,238.80 231.80,238.80 232.30,238.80 232.80,238.80 233.30,238.80 233.80,238.80 234.30,238.80 234.80,238.80 235.30,238.80 235.80,238.80 236.30,238.80 236.80,238.80 237.30,238.80 237.80,238.80 238.30,238.80 238.80,238.80 239.30,238.80 239.80,238.80 240.30,238.80 240.80,238.80 241.30,238.80 241.80,238.80 242.30,238.80 242.80,238.80 243.30,238.80 243.80,238.80 244.30,238.80 244.80,238.80 245.30,238.80 245.80,238.80 246.30,238.80 246.80,238.80 247.30,238.80 247.80,238.80 248.30,238.80 248.80,238.80 249.30,238.80 249.80,238.80 250.30,238.80 250.80,238.80 251.30,238.80 251.80,238.80 252.30,238.80 252.80,238.80 253.30,238.80 253.80,238.80 254.30,238.80 254.80,238.80 255.30,238.80 255.80,238.80 256.30,238.80 256.80,238.80 257.30,238.80 257.80,238.80 258.30,238.80 258.80,238.80 259.30,238.80 259.80,238.80 260.30,238.80 260.80,238.80 261.30,238.80 261.80,238.80 262.30,238.80 262.80,238.80 263.30,238.80 263.80,238.80 264.30,238.80 264.80,238.80 265.30,238.79 265.80,238.79 266.30,238.79 266.80,238.79 267.30,238.78 267.80,238.78 268.30,238.77 268.80,238.76 269.30,238.75 269.80,238.73 270.30,238.72 270.80,238.69 271.30,238.67 271.80,238.63 272.30,238.59 272.80,238.53 273.30,238.47 273.80,238.39 274.30,238.29 274.80,238.18 275.30,238.04 275.80,237.88 276.30,237.69 276.80,237.47 277.30,237.21 277.80,236.90 278.30,236.55 278.80,236.15 279.30,235.70 279.80,235.17 280.30,234.59 280.80,233.92 281.30,233.18 281.80,232.36 282.30,231.45 282.80,230.45 283.30,229.36 283.80,228.17 284.30,226.88 284.80,225.50 285.30,224.02 285.80,222.44 286.30,220.77 286.80,219.01 287.30,217.16 287.80,215.24 288.30,213.25 288.80,211.19 289.30,209.09 289.80,206.94 290.30,204.77 290.80,202.57 291.30,200.37 291.80,198.17 292.30,195.99 292.80,193.84 293.30,191.72 293.80,189.66 294.30,187.65 294.80,185.72 295.30,183.86 295.80,182.08 296.30,180.39 296.80,178.79 297.30,177.29 297.80,175.88 298.30,174.58 298.80,173.37 299.30,172.26 299.80,171.24 300.30,170.31 300.80,169.47 301.30,168.72 301.80,168.04 302.30,167.44 302.80,166.90 303.30,166.43 303.80,166.02 304.30,165.66 304.80,165.35 305.30,165.08 305.80,164.85 306.30,164.65 306.80,164.49 307.30,164.35 307.80,164.23 308.30,164.13 308.80,164.05 309.30,163.98 309.80,163.92 310.30,163.88 310.80,163.84 311.30,163.81 311.80,163.79 312.30,163.77 312.80,163.75 313.30,163.74 313.80,163.73 314.30,163.72 314.80,163.72 315.30,163.71 315.80,163.71 316.30,163.71 316.80,163.71 317.30,163.70 317.80,163.70 318.30,163.70 318.80,163.70 319.30,163.70 319.80,163.70 320.30,163.70 320.80,163.70 321.30,163.70 321.80,163.70 322.30,163.70 322.80,163.70 323.30,163.70 323.80,163.70 324.30,163.70 324.80,163.70 325.30,163.70 325.80,163.70 326.30,163.70 326.80,163.70 327.30,163.70 327.80,163.70 328.30,163.70 328.80,163.70 329.30,163.70 329.80,163.70 330.30,163.70 330.80,163.70 331.30,163.70 331.80,163.70 332.30,163.70 332.80,163.70 333.30,163.70 333.80,163.70 334.30,163.70 334.80,163.70 335.30,163.70 335.80,163.70 336.30,163.70 336.80,163.70 337.30,163.70 337.80,163.70 338.30,163.70 338.80,163.70 339.30,163.70 339.80,163.70 340.30,163.70 340.80,163.70 341.30,163.70 341.80,163.70 342.30,163.70 342.80,163.70 343.30,163.70 343.80,163.70 344.30,163.70 344.80,163.70 345.30,163.70 345.80,163.70 346.30,163.70 346.80,163.70 347.30,163.70 347.80,163.70 348.30,163.70 348.80,163.70 349.30,163.70 349.80,163.70 350.30,163.70 350.80,163.70 351.30,163.70 351.80,163.70 352.30,163.70 352.80,163.70 353.30,163.70 353.80,163.70 354.30,163.70 354.80,163.70 355.30,163.70 355.80,163.70 356.30,163.70 356.80,163.70 357.30,163.70 357.80,163.70 358.30,163.70 358.80,163.70 359.30,163.70 359.80,163.70 360.30,163.70 360.80,163.70 361.30,163.70 361.80,163.70 362.30,163.70 362.80,163.70 363.30,163.70 363.80,163.70 364.30,163.70 364.80,163.70 365.30,163.70 365.80,163.70 366.30,163.70 366.80,163.70 367.30,163.70 367.80,163.70 368.30,163.70 368.80,163.70 369.30,163.70 369.80,163.70 370.30,163.70 370.80,163.70 371.30,163.70 371.80,163.70 372.30,163.70 372.80,163.70 373.30,163.70 373.80,163.70 374.30,163.70 374.80,163.70" fill="none" stroke="#3535a5" stroke-width="1.3" stroke-linejoin="round"/>
<line x1="320.5" y1="192" x2="320.5" y2="207.6" stroke="#111111" stroke-width="0.8"/>
<path d="M320.5,189.6 L319.1,193.2 L321.9,193.2 Z" fill="#111111"/>
<line x1="314" y1="204.2" x2="337.6" y2="204.2" stroke="#111111" stroke-width="0.8"/>
<path d="M340,204.2 L336.4,202.8 L336.4,205.6 Z" fill="#111111"/>
<text x="319.2" y="188.8" font-size="7" fill="#111111" style="font-family:'Liberation Sans',sans-serif">z</text>
<text x="341.2" y="207" font-size="7" fill="#111111" style="font-family:'Liberation Sans',sans-serif">x</text>
<path d="M301.7,224.9 L325,216.8 L354.6,216.8 L332.6,224.9 Z" fill="#f6f1a6" stroke="#555548" stroke-width="0.75"/>
<path d="M301.7,224.9 L332.6,224.9 L332.6,233.7 L301.7,233.7 Z" fill="#ede99e" stroke="#555548" stroke-width="0.75"/>
<path d="M332.6,224.9 L354.6,216.8 L354.6,224.9 L332.6,233.7 Z" fill="#e3df92" stroke="#555548" stroke-width="0.75"/>
<clipPath id="hc"><path d="M316,233.7 L332.6,233.7 L354.6,224.9 L354.6,220.4 L332.6,227.6 Z"/></clipPath>
<path d="M310.0,235 L316.0,219M311.8,235 L317.8,219M313.5,235 L319.5,219M315.2,235 L321.2,219M317.0,235 L323.0,219M318.8,235 L324.8,219M320.5,235 L326.5,219M322.2,235 L328.2,219M324.0,235 L330.0,219M325.8,235 L331.8,219M327.5,235 L333.5,219M329.2,235 L335.2,219M331.0,235 L337.0,219M332.8,235 L338.8,219M334.5,235 L340.5,219M336.2,235 L342.2,219M338.0,235 L344.0,219M339.8,235 L345.8,219M341.5,235 L347.5,219M343.2,235 L349.2,219M345.0,235 L351.0,219M346.8,235 L352.8,219M348.5,235 L354.5,219M350.2,235 L356.2,219M352.0,235 L358.0,219M353.8,235 L359.8,219M355.5,235 L361.5,219M357.2,235 L363.2,219M359.0,235 L365.0,219M360.8,235 L366.8,219" stroke="#3a3a30" stroke-width="0.75" clip-path="url(#hc)"/>
<text x="302.4" y="232.9" font-size="8.2" fill="#111111" style="font-family:'Liberation Sans',sans-serif">S/C</text>
<path d="M324.2,208 L333.2,228 L342.1,208" stroke="#1fa25a" stroke-width="0.9" fill="none"/>
<line x1="356.3" y1="217.8" x2="356.3" y2="224.4" stroke="#111111" stroke-width="0.6"/>
<path d="M356.3,216.9 L355.4,218.7 L357.2,218.7 Z M356.3,225.2 L355.4,223.4 L357.2,223.4 Z" fill="#111111"/>
<text x="357.8" y="223.8" font-size="7.5" fill="#111111" text-anchor="start" >d</text>
</g>
</svg>
</body></html>
